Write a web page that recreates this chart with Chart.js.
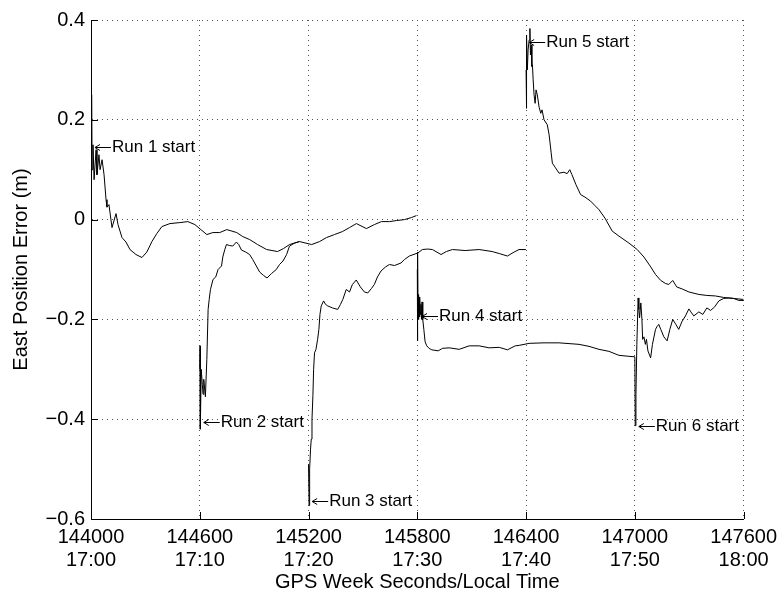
<!DOCTYPE html>
<html>
<head>
<meta charset="utf-8">
<script src="https://cdn.jsdelivr.net/npm/chart.js@4"></script>
<style>
  html, body { margin: 0; padding: 0; background: #fff; }
  #wrap { width: 784px; height: 595px; }
</style>
</head>
<body>
<div id="wrap"><canvas id="gpsChart" width="784" height="595"></canvas></div>
<script>
// GPS week seconds / east position error (m), one array pair per run
const run1X = [144004, 144006, 144011, 144017, 144028, 144033, 144044, 144050, 144061, 144072, 144083, 144088, 144099, 144116, 144138, 144149, 144171, 144193, 144215, 144248, 144281, 144308, 144336, 144363, 144391, 144435, 144490, 144534, 144573, 144606, 144639, 144672, 144710, 144749, 144804, 144837, 144875, 144919, 144969, 145029, 145062, 145095, 145150, 145217, 145261, 145299, 145343, 145387, 145426, 145464, 145519, 145563, 145602, 145646, 145684, 145729, 145767, 145795];
const run1Y = [0.25, 0.10, 0.15, 0.08, 0.14, 0.09, 0.13, 0.10, 0.12, 0.09, 0.04, 0.025, 0.03, -0.016, 0.012, -0.01, -0.036, -0.045, -0.06, -0.07, -0.076, -0.065, -0.044, -0.028, -0.014, -0.008, -0.006, -0.004, -0.01, -0.02, -0.03, -0.026, -0.026, -0.02, -0.026, -0.034, -0.04, -0.05, -0.06, -0.064, -0.058, -0.05, -0.044, -0.05, -0.044, -0.036, -0.03, -0.024, -0.016, -0.008, -0.018, -0.01, -0.004, -0.004, -0.002, 0.0, 0.004, 0.008];

const run2X = [144600, 144602, 144603, 144608, 144614, 144618, 144622, 144631, 144639, 144646, 144652, 144659, 144673, 144688, 144701, 144720, 144727, 144738, 144747, 144765, 144782, 144802, 144815, 144830, 144853, 144875, 144892, 144912, 144930, 144952, 144971, 144996, 145022, 145040, 145059, 145079, 145095, 145123, 145150];
const run2Y = [-0.30, -0.253, -0.42, -0.30, -0.33, -0.35, -0.32, -0.355, -0.28, -0.18, -0.16, -0.14, -0.12, -0.115, -0.10, -0.093, -0.075, -0.06, -0.05, -0.052, -0.053, -0.045, -0.05, -0.061, -0.065, -0.07, -0.08, -0.093, -0.105, -0.112, -0.117, -0.108, -0.10, -0.09, -0.083, -0.07, -0.053, -0.047, -0.044];

const run3X = [145200, 145203, 145206, 145211, 145215, 145219, 145224, 145228, 145233, 145241, 145250, 145257, 145263, 145270, 145283, 145294, 145306, 145332, 145361, 145376, 145389, 145408, 145426, 145442, 145463, 145486, 145508, 145527, 145547, 145563, 145580, 145600, 145624, 145646, 145674, 145710, 145729, 145756, 145802, 145828, 145857, 145883, 145931, 145960, 145994, 146064, 146141, 146213, 146252, 146297, 146334, 146361, 146399];
const run3Y = [-0.49, -0.573, -0.50, -0.46, -0.44, -0.40, -0.353, -0.30, -0.267, -0.26, -0.24, -0.22, -0.19, -0.173, -0.163, -0.17, -0.173, -0.177, -0.18, -0.17, -0.16, -0.14, -0.145, -0.13, -0.121, -0.135, -0.145, -0.147, -0.138, -0.13, -0.115, -0.103, -0.095, -0.09, -0.092, -0.087, -0.08, -0.073, -0.067, -0.06, -0.059, -0.06, -0.07, -0.064, -0.06, -0.062, -0.06, -0.064, -0.068, -0.073, -0.065, -0.06, -0.06];

const run4X = [145800, 145801, 145802, 145804, 145806, 145808, 145810, 145812, 145814, 145817, 145820, 145823, 145826, 145830, 145836, 145843, 145852, 145865, 145880, 145915, 145939, 145976, 146031, 146086, 146141, 146196, 146252, 146297, 146340, 146362, 146417, 146499, 146582, 146692, 146747, 146802, 146857, 146912, 146967, 147000];
const run4Y = [-0.10, -0.243, -0.065, -0.18, -0.15, -0.20, -0.16, -0.195, -0.155, -0.19, -0.17, -0.20, -0.165, -0.20, -0.22, -0.245, -0.253, -0.258, -0.261, -0.263, -0.258, -0.257, -0.26, -0.253, -0.253, -0.257, -0.256, -0.261, -0.253, -0.252, -0.248, -0.247, -0.247, -0.25, -0.254, -0.26, -0.264, -0.272, -0.274, -0.275];

const run5X = [146400, 146401, 146404, 146407, 146411, 146417, 146421, 146424, 146428, 146432, 146435, 146439, 146444, 146450, 146455, 146462, 146472, 146481, 146488, 146499, 146517, 146527, 146538, 146545, 146560, 146582, 146609, 146626, 146641, 146653, 146675, 146701, 146725, 146756, 146780, 146802, 146835, 146875, 146912, 146967, 147013, 147050, 147088, 147114, 147143, 147169, 147187, 147209, 147231, 147261, 147298, 147353, 147397, 147444, 147490, 147545, 147600];
const run5Y = [0.30, 0.223, 0.37, 0.30, 0.34, 0.36, 0.383, 0.33, 0.35, 0.307, 0.31, 0.28, 0.25, 0.233, 0.26, 0.25, 0.225, 0.213, 0.22, 0.20, 0.19, 0.17, 0.135, 0.113, 0.105, 0.093, 0.095, 0.092, 0.10, 0.09, 0.07, 0.05, 0.045, 0.037, 0.028, 0.02, 0.003, -0.023, -0.033, -0.047, -0.06, -0.075, -0.095, -0.11, -0.122, -0.128, -0.13, -0.122, -0.135, -0.139, -0.145, -0.15, -0.152, -0.153, -0.156, -0.158, -0.16];

const run6X = [147000, 147002, 147006, 147011, 147018, 147022, 147026, 147033, 147039, 147043, 147050, 147058, 147064, 147072, 147087, 147097, 147114, 147121, 147132, 147143, 147160, 147178, 147193, 147209, 147226, 147242, 147259, 147279, 147298, 147309, 147325, 147353, 147375, 147397, 147418, 147440, 147463, 147490, 147518, 147545, 147573, 147600];
const run6Y = [-0.275, -0.413, -0.35, -0.25, -0.157, -0.18, -0.197, -0.167, -0.20, -0.24, -0.235, -0.25, -0.24, -0.263, -0.277, -0.25, -0.22, -0.215, -0.21, -0.22, -0.235, -0.243, -0.22, -0.20, -0.21, -0.22, -0.205, -0.193, -0.179, -0.185, -0.193, -0.185, -0.19, -0.177, -0.182, -0.175, -0.163, -0.158, -0.157, -0.158, -0.162, -0.162];

// x tick labels: GPS seconds and local time
const xTickSeconds = [144000, 144600, 145200, 145800, 146400, 147000, 147600];
const xTickTimes = ['17:00', '17:10', '17:20', '17:30', '17:40', '17:50', '18:00'];

// "Run N start" notes, anchored in data units (arrow tip)
const noteLabels = ['Run 1 start', 'Run 2 start', 'Run 3 start', 'Run 4 start', 'Run 5 start', 'Run 6 start'];
const noteX = [144022, 144622, 145220, 145826, 146417, 147022];
const noteY = [0.146, -0.405, -0.563, -0.193, 0.355, -0.413];

const FONT = '"Liberation Sans", Arial, Helvetica, sans-serif';

function toPoints(xs, ys) {
  return xs.map((x, i) => ({ x: x, y: ys[i] }));
}

const runs = [[run1X, run1Y], [run2X, run2Y], [run3X, run3Y], [run4X, run4Y], [run5X, run5Y], [run6X, run6Y]];

const datasets = runs.map((r, i) => ({
  label: 'Run ' + (i + 1),
  data: toPoints(r[0], r[1]),
  borderColor: '#000',
  borderWidth: 1,
  pointRadius: 0,
  tension: 0,
  fill: false
}));

// inward tick marks like the original plot
const innerTicks = {
  id: 'innerTicks',
  afterDraw(chart) {
    const ctx = chart.ctx;
    const xs = chart.scales.x, ys = chart.scales.y;
    const area = chart.chartArea;
    ctx.save();
    ctx.strokeStyle = '#000';
    ctx.lineWidth = 1;
    ctx.beginPath();
    xs.ticks.forEach(t => {
      const px = Math.round(xs.getPixelForValue(t.value)) + 0.5;
      ctx.moveTo(px, area.bottom);
      ctx.lineTo(px, area.bottom - 7);
    });
    ys.ticks.forEach(t => {
      const py = Math.round(ys.getPixelForValue(t.value)) + 0.5;
      ctx.moveTo(area.left, py);
      ctx.lineTo(area.left + 7, py);
    });
    ctx.stroke();
    ctx.restore();
  }
};

// text notes with a thin left arrow, like matlab's \leftarrow
const runNotes = {
  id: 'runNotes',
  afterDatasetsDraw(chart) {
    const ctx = chart.ctx;
    ctx.save();
    ctx.fillStyle = '#000';
    ctx.strokeStyle = '#000';
    ctx.lineWidth = 1;
    ctx.font = '17px ' + FONT;
    ctx.textAlign = 'left';
    ctx.textBaseline = 'middle';
    noteLabels.forEach((txt, i) => {
      const px = chart.scales.x.getPixelForValue(noteX[i]);
      const py = Math.round(chart.scales.y.getPixelForValue(noteY[i])) + 0.5;
      ctx.beginPath();
      ctx.moveTo(px, py);
      ctx.lineTo(px + 16, py);
      ctx.moveTo(px + 5, py - 3);
      ctx.lineTo(px, py);
      ctx.lineTo(px + 5, py + 3);
      ctx.stroke();
      ctx.fillText(txt, px + 17, py);
    });
    ctx.restore();
  }
};

const ctx = document.getElementById('gpsChart').getContext('2d');
new Chart(ctx, {
  type: 'line',
  data: { datasets: datasets },
  options: {
    responsive: false,
    animation: false,
    layout: { padding: { left: 0, right: 39, top: 20, bottom: 0 } },
    plugins: {
      legend: { display: false },
      tooltip: { enabled: false }
    },
    scales: {
      x: {
        type: 'linear',
        min: 144000,
        max: 147600,
        afterBuildTicks: scale => {
          scale.ticks = xTickSeconds.map(v => ({ value: v }));
        },
        afterFit: scale => { scale.height = 76; },
        ticks: {
          color: '#000',
          padding: 7,
          maxRotation: 0,
          autoSkip: false,
          font: { family: FONT, size: 20, lineHeight: 1.15 },
          callback: (v) => {
            const i = xTickSeconds.indexOf(v);
            return [String(v), i >= 0 ? xTickTimes[i] : ''];
          }
        },
        grid: { color: '#555', lineWidth: 1, drawTicks: false },
        border: { display: true, color: '#000', width: 1, dash: [1, 4] },
        title: {
          display: true,
          text: 'GPS Week Seconds/Local Time',
          color: '#000',
          font: { family: FONT, size: 20, lineHeight: 1.15 },
          padding: { top: 0, bottom: 1 }
        }
      },
      y: {
        min: -0.6,
        max: 0.4,
        afterFit: scale => { scale.width = 91; },
        ticks: {
          stepSize: 0.2,
          color: '#000',
          padding: 6,
          font: { family: FONT, size: 20 },
          callback: (v) => {
            if (Math.abs(v) < 1e-9) return '0';
            return v.toFixed(1).replace('-', '\u2212');
          }
        },
        grid: { color: '#555', lineWidth: 1, drawTicks: false },
        border: { display: true, color: '#000', width: 1, dash: [1, 4] },
        title: {
          display: true,
          text: 'East Position Error (m)',
          color: '#000',
          font: { family: FONT, size: 20, lineHeight: 1.15 },
          padding: { top: 10, bottom: 0 }
        }
      }
    }
  },
  plugins: [innerTicks, runNotes]
});
</script>
</body>
</html>
